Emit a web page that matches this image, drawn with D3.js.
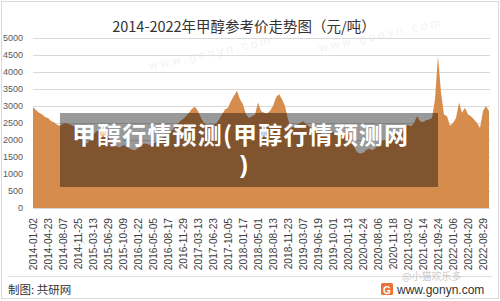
<!DOCTYPE html>
<html><head><meta charset="utf-8">
<script src="https://cdn.jsdelivr.net/npm/d3@7"></script>
<style>
html,body{margin:0;padding:0;background:#fff;}
svg{display:block;}
</style></head>
<body><svg id="c" width="500" height="301"></svg>
<script>
const title = "2014-2022年甲醇参考价走势图（元/吨）";
const tickLabels = ["2014-01-02","2014-04-23","2014-08-07","2014-11-25","2015-03-13","2015-06-29","2015-10-09","2016-01-22","2016-05-05","2016-08-17","2016-11-29","2017-03-13","2017-06-23","2017-10-05","2018-01-17","2018-05-01","2018-08-13","2018-11-23","2019-03-07","2019-06-19","2019-10-01","2020-01-13","2020-04-24","2020-08-06","2020-11-18","2021-03-02","2021-06-14","2021-09-24","2022-01-06","2022-04-20","2022-08-29"];
const yTicks = [0,500,1000,1500,2000,2500,3000,3500,4000,4500,5000];
const prices = [2970,2880,2800,2760,2680,2650,2560,2520,2450,2420,
2480,2500,2460,2440,2380,2300,2150,1980,1900,2000,
2150,2250,2280,2200,2150,2100,1950,1850,1800,1780,
1850,1820,1760,1720,1700,1760,1830,1900,1880,1850,
1900,1930,1980,2050,2100,2150,2250,2350,2450,2550,
2620,2700,2800,2920,2980,2850,2650,2500,2420,2380,
2450,2480,2600,2750,2900,2950,3150,3300,3450,3200,
3050,2750,2650,2700,2750,3100,2850,2800,2780,2850,
3000,3250,3350,3200,3000,2600,2350,2400,2450,2500,
2550,2480,2400,2350,2300,2250,2200,2150,2100,2200,
2250,2150,2100,2180,2250,2200,2050,1800,1650,1600,
1620,1700,1750,1700,1750,1850,1950,2000,1980,2050,
2150,2200,2150,2250,2400,2450,2400,2500,2700,2550,
2520,2580,2600,2650,3200,4470,3400,2750,2700,2420,
2500,2650,3100,2800,2950,2750,2700,2600,2500,2350,
2850,3000,2850];
const pointsPerTick = 5;
const overlayLines = ["甲醇行情预测(甲醇行情预测网", ")"];
const footerLeft = "制图: 共研网";
const footerRight = "www.gonyn.com";
const socialMark = "@小猫欢乐多";

const svg = d3.select("#c");
const x = d3.scaleLinear().domain([0, prices.length - 1]).range([33, 489]);
const y = d3.scaleLinear().domain([0, 5000]).range([208, 38]);

// frame
svg.append("rect").attr("x",1.5).attr("y",1.5).attr("width",497).attr("height",297)
  .attr("fill","#fff").attr("stroke","#d9d9d9");

// faint background watermarks
[[150,70],[320,52],[60,250]].forEach(([wx,wy])=>{
  svg.append("text").attr("x",wx).attr("y",wy).attr("transform",`rotate(-12,${wx},${wy})`)
    .attr("font-family","Liberation Sans, Arial, sans-serif").attr("font-size",12)
    .attr("letter-spacing",3).attr("fill","#000").attr("opacity",0.05).text("www.gonyn.com");
});

// gridlines
svg.append("g").selectAll("line").data(yTicks).join("line")
  .attr("x1",33).attr("x2",490).attr("y1",d=>y(d)+0.5).attr("y2",d=>y(d)+0.5)
  .attr("stroke","#d9d9d9").attr("stroke-width",1);

// y labels
svg.append("g").selectAll("text").data(yTicks).join("text")
  .attr("x",23).attr("y",d=>y(d)).attr("dy","0.35em").attr("text-anchor","end")
  .attr("font-family","Liberation Sans, Arial, sans-serif").attr("font-size",9)
  .attr("fill","#595959").text(d=>d);

// area
const area = d3.area().x((d,i)=>x(i)).y0(y(0)).y1(d=>y(d)).curve(d3.curveLinear);
svg.append("path").datum(prices).attr("d",area).attr("fill","#d58c4d");

// x labels
const tickIdx = tickLabels.map((t,i)=>i*pointsPerTick);
svg.append("g").selectAll("text").data(tickLabels).join("text")
  .attr("transform",(d,i)=>`translate(${x(tickIdx[i])+3.5},218) rotate(-90)`)
  .attr("text-anchor","end")
  .attr("font-family","Liberation Sans, Arial, sans-serif").attr("font-size",10.2)
  .attr("fill","#404040").text(d=>d);

// title
svg.append("text").attr("x",244).attr("y",32).attr("text-anchor","middle")
  .attr("font-family","'Noto Sans CJK SC', sans-serif").attr("font-size",14.5)
  .attr("fill","#333").text(title);

// separator + footer
svg.append("line").attr("x1",8).attr("x2",492).attr("y1",276.5).attr("y2",276.5)
  .attr("stroke","#e0e0e0");
svg.append("text").attr("x",8).attr("y",294)
  .attr("font-family","'Noto Sans CJK SC', sans-serif").attr("font-size",11.5)
  .attr("fill","#333").text(footerLeft);
svg.append("rect").attr("x",381).attr("y",283).attr("width",12).attr("height",12)
  .attr("rx",1.5).attr("fill","#e8733a");
svg.append("text").attr("x",387).attr("y",293.5).attr("text-anchor","middle")
  .attr("font-family","Liberation Sans, Arial, sans-serif").attr("font-weight","bold")
  .attr("font-size",10).attr("fill","#fff").text("G");
svg.append("text").attr("x",397).attr("y",294)
  .attr("font-family","Liberation Sans, Arial, sans-serif").attr("font-size",12)
  .attr("fill","#333").text(footerRight);
svg.append("text").attr("x",402).attr("y",280)
  .attr("font-family","'Noto Sans CJK SC', sans-serif").attr("font-size",10)
  .attr("fill","#999").attr("opacity",0.5).text(socialMark);

// overlay
svg.append("rect").attr("x",60).attr("y",113).attr("width",378).attr("height",74)
  .attr("fill","#000").attr("opacity",0.4);
const ov = svg.append("g").attr("font-weight","bold").attr("font-size",24).attr("fill","#fff");
ov.append("text").attr("x",72).attr("y",144).attr("textLength",336)
  .attr("font-family","'Noto Sans CJK SC', sans-serif")
  .attr("lengthAdjust","spacing").text(overlayLines[0]);
ov.append("text").attr("x",244).attr("y",173).attr("text-anchor","middle")
  .attr("font-family","Liberation Sans, Arial, sans-serif").text(overlayLines[1]);
</script></body></html>
